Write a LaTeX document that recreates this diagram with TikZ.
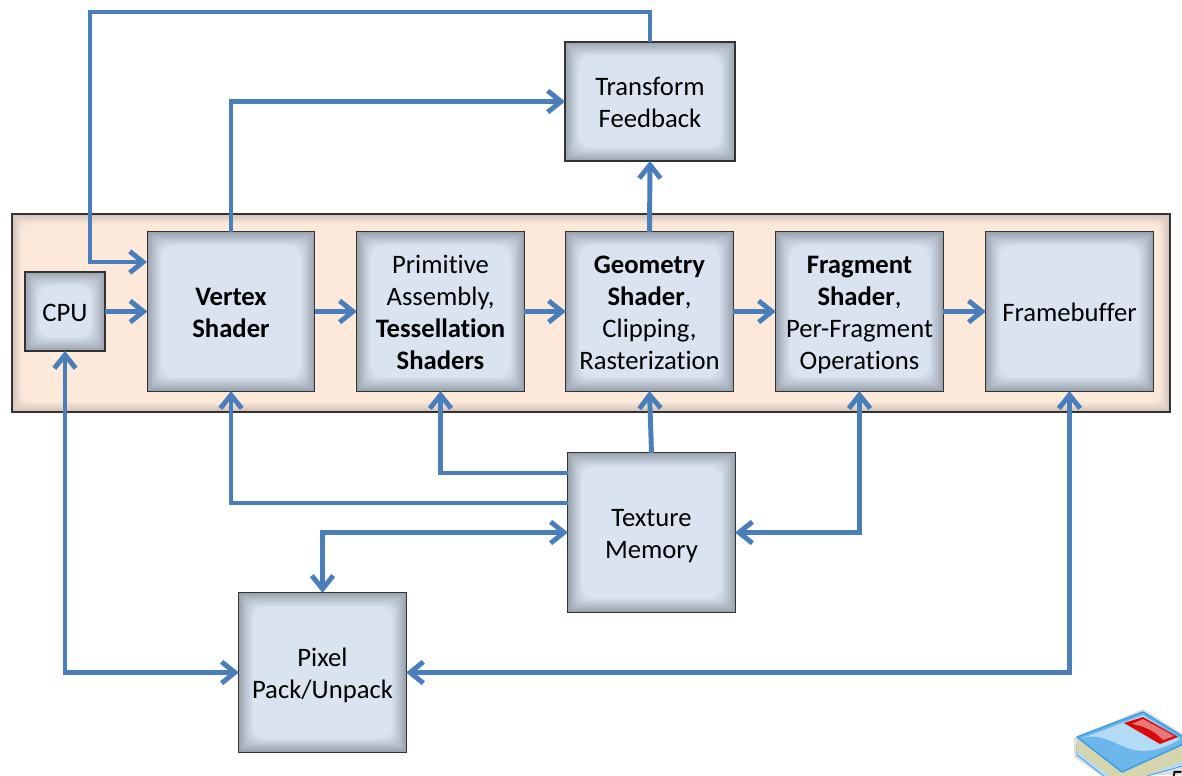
\documentclass[tikz,border=0pt]{standalone}
\usepackage{fontspec}
\setmainfont[Ligatures=NoCommon]{Carlito}
\usetikzlibrary{arrows.meta}
\definecolor{flow}{HTML}{4A7EBB}
\definecolor{boxin}{HTML}{DAE4F1}
\definecolor{boxedge}{HTML}{98A1AC}
\definecolor{bandin}{HTML}{FCE9DA}
\definecolor{bandedge}{HTML}{CFC1B6}
\definecolor{bookside}{HTML}{D6D6AE}
\definecolor{bookblue}{HTML}{6DB6EC}
\definecolor{booklight}{HTML}{B4DBF6}
\definecolor{bookline}{HTML}{3F9FE0}
\definecolor{bookred}{HTML}{D80A0A}
\newcommand{\blk}[1]{\raisebox{0pt}[\dimexpr\height+5.7pt\relax][\depth]{\begin{tabular}{@{}c@{}}#1\end{tabular}}}
\tikzset{
  glow/.style n args={3}{
    path picture={
      \fill[#2] (path picture bounding box.north west) rectangle (path picture bounding box.south east);
      \foreach \i in {1,...,#3}{
        \pgfmathsetmacro{\pct}{100*(\i/#3)^0.9}
        \fill[#1!\pct!#2,rounded corners=\i*0.7pt]
          ([xshift=\i*0.75pt,yshift=-\i*0.75pt]path picture bounding box.north west) rectangle
          ([xshift=-\i*0.75pt,yshift=\i*0.75pt]path picture bounding box.south east);
      }
    }},
  bluebox/.style={draw=black!80,line width=0.8pt,inner sep=0pt,outer sep=0pt,
    font=\fontsize{20}{24}\selectfont,glow={boxin}{boxedge}{14}},
  bigbox/.style={bluebox,minimum width=125.4pt,minimum height=119.4pt},
  band/.style={draw=black!80,line width=0.8pt,inner sep=0pt,outer sep=0pt,glow={bandin}{bandedge}{10}},
  conn/.style={draw=flow,line width=3.7pt,line join=miter,
    arrows={-Straight Barb[length=10pt,width=16pt,line width=3.7pt]}},
  conn2/.style={conn,arrows={Straight Barb[length=10pt,width=16pt,line width=3.7pt]-Straight Barb[length=10pt,width=16pt,line width=3.7pt]}},
}
\begin{document}
\begin{tikzpicture}[x=0.75pt,y=-0.75pt]
\useasboundingbox (0,0) rectangle (1182,775);
\clip (0,0) rectangle (1182,775);
\node[band,minimum width=868.5pt,minimum height=148.5pt] (bandbox) at (591,313) {};
\node[bluebox,minimum width=60pt,minimum height=59.25pt] (cpu) at (65,311.5) {\blk{CPU}};
\node[bigbox] (vs) at (231,311.5) {\blk{\textbf{Vertex}\\\textbf{Shader}}};
\node[bigbox] (pa) at (440.5,311.5) {\blk{Primitive\\Assembly,\\\textbf{Tessellation}\\\textbf{Shaders}}};
\node[bigbox] (gs) at (649.5,311.5) {\blk{\textbf{Geometry}\\\textbf{Shader},\\Clipping,\\Rasterization}};
\node[bigbox] (fs) at (859.5,311.5) {\blk{\textbf{Fragment}\\\textbf{Shader},\\Per-Fragment\\Operations}};
\node[bigbox] (fb) at (1069.5,311.5) {\blk{Framebuffer}};
\node[bluebox,minimum width=127.5pt,minimum height=89.25pt] (tf) at (650,101.5) {\blk{Transform\\Feedback}};
\node[bigbox] (tm) at (651.5,532.5) {\blk{Texture\\Memory}};
\node[bigbox] (pp) at (322.5,672.5) {\blk{Pixel\\Pack/Unpack}};

\coordinate (up) at (90,12);
\coordinate (vsin) at (147,262);
\coordinate (tmA) at (568,473);
\coordinate (tmB) at (568,503);
\draw[conn] (cpu.east) -- (cpu.east -| vs.west);
\draw[conn] (vs.east) -- (pa.west);
\draw[conn] (pa.east) -- (gs.west);
\draw[conn] (gs.east) -- (fs.west);
\draw[conn] (fs.east) -- (fb.west);
\draw[conn] (gs.north) -- (tf.south);
\draw[conn] (vs.north) |- (tf.west);
\draw[conn] (tf.north) |- (up) -- (up |- vsin) -- (vsin);
\draw[conn] (tm.north) -- (gs.south);
\draw[conn] (tmA) -| (pa.south);
\draw[conn] (tmB) -| (vs.south);
\draw[conn2] (tm.east) -| (fs.south);
\draw[conn2] (tm.west) -| (pp.north);
\draw[conn2] (cpu.south) |- (pp.west);
\draw[conn2] (fb.south) |- (pp.east);

% book icon
\fill[black!12] (1074,738) -- (1143,709) -- (1182,733) -- (1182,775) -- (1100,775) -- (1074,757) -- cycle;
\fill[booklight,draw=bookline,line width=0.6pt] (1077,745) -- (1077,755) -- (1115,785) -- (1186,765) -- (1186,745) -- cycle;
\fill[bookside] (1077,737) -- (1077,751) -- (1122,785) -- (1186,760) -- (1186,742) -- (1122,772) -- cycle;
\fill[bookblue,draw=bookline,line width=1.2pt,line join=round]
  (1077,737) -- (1143,712) -- (1190,741) -- (1122,772) -- cycle;
\fill[booklight] (1083,738) -- (1143,715) -- (1180,739) -- (1177,741) .. controls (1160,750) and (1145,754) .. (1127,748)
  .. controls (1112,742) and (1100,733) .. (1083,738) -- cycle;
\fill[bookred] (1124,723) -- (1143,717) -- (1178,737) -- (1160,744) -- cycle;
\fill[white,opacity=0.45] (1132,724) -- (1143,719) -- (1174,736) -- (1163,740) .. controls (1156,732) and (1145,726) .. (1132,724) -- cycle;
\node[font=\fontsize{20}{24}\selectfont,anchor=north west,inner sep=0pt] (pagenum) at (1170,771) {5};
\end{tikzpicture}
\end{document}
